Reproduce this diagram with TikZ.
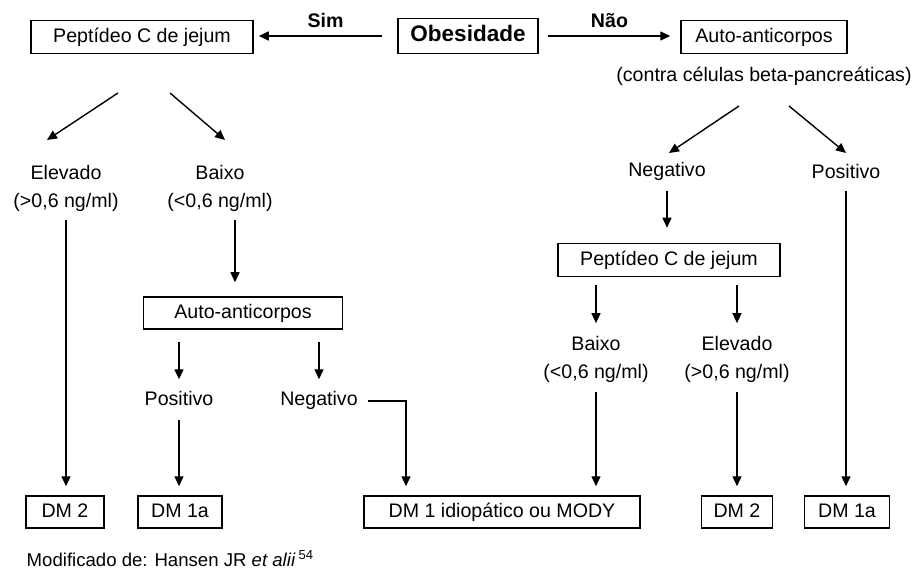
\documentclass[tikz,border=0pt]{standalone}
\usepackage{fontspec}
\setmainfont{Liberation Sans}
\usetikzlibrary{arrows.meta,positioning}

\begin{document}
\begin{tikzpicture}[x=1pt, y=-1pt, font=\fontsize{19.6}{28}\selectfont,
   >={Triangle[length=10pt,width=9pt]}, line width=1.4pt,
   caixa/.style={draw, line width=1.5pt, minimum height=33pt, inner sep=0pt, text height=14pt, text depth=3pt},
   rotulo/.style={align=center, inner sep=0pt},
   linha/.style={inner sep=0pt, text height=14pt, text depth=4pt}]
   \useasboundingbox (0,0) rectangle (919,569);

   % primeira linha
   \node[caixa, font=\fontsize{22.5}{28}\selectfont\bfseries, minimum width=140pt, minimum height=35pt] (obes) at (468,36) {Obesidade};
   \node[caixa, minimum width=222pt] (pepA) at (142,37) {Peptídeo C de jejum};
   \node[caixa, minimum width=166pt] (autoA) at (764,37) {Auto-anticorpos};
   \node[linha] (contra) at (764,77) {(contra células beta-pancreáticas)};

   % lado "Sim"
   \node[rotulo] (elevA) at (66,188) {Elevado\\(>0,6 ng/ml)};
   \node[rotulo] (baixoA) at (220,188) {Baixo\\(<0,6 ng/ml)};
   \node[caixa, minimum width=199pt, minimum height=32pt] (autoB) at (243,313) {Auto-anticorpos};
   \node[linha] (posB) at (179,401) {Positivo};
   \node[linha] (negB) at (319,401) {Negativo};

   % lado "Nao"
   \node[linha] (negC) at (667,172) {Negativo};
   \node[linha] (posC) at (846,174) {Positivo};
   \node[caixa, minimum width=222pt] (pepB) at (669,260) {Peptídeo C de jejum};
   \node[rotulo] (baixoB) at (596,359) {Baixo\\(<0,6 ng/ml)};
   \node[rotulo] (elevB) at (737,359) {Elevado\\(>0,6 ng/ml)};

   % diagnosticos
   \node[caixa, minimum width=78pt, minimum height=32pt] (dm2A) at (65,512) {DM 2};
   \node[caixa, minimum width=84pt, minimum height=32pt] (dm1aA) at (180,512) {DM 1a};
   \node[caixa, minimum width=276pt, minimum height=32pt] (idio) at (502,512) {DM 1 idiopático ou MODY};
   \node[caixa, minimum width=71pt, minimum height=32pt] (dm2B) at (737,512) {DM 2};
   \node[caixa, minimum width=85pt, minimum height=32pt] (dm1aB) at (847,512) {DM 1a};

   \node[inner sep=0pt, anchor=base west, font=\fontsize{18.6}{22}\selectfont] (fonte) at (26,566) {Modificado de: Hansen JR \textit{et alii}\,\textsuperscript{54}};

   % pontas livres das setas inclinadas
   \coordinate (pA1) at (118,93);
   \coordinate (pA2) at (170,93);
   \coordinate (eA1) at (47,140);
   \coordinate (eA2) at (225,140);
   \coordinate (pC1) at (739,106);
   \coordinate (pC2) at (789,106);
   \coordinate (eC1) at (669,153);
   \coordinate (eC2) at (846,153);

   \draw[->, shorten <=15pt, shorten >=5pt] (obes.west) -- (obes.west -| pepA.east)
      node[midway, above=4pt, font=\fontsize{19.6}{28}\selectfont\bfseries] {Sim};
   \draw[->, shorten <=9pt, shorten >=10pt] (obes.east) -- (obes.east -| autoA.west)
      node[midway, above=4pt, font=\fontsize{19.6}{28}\selectfont\bfseries] {Não};

   \draw[->] (pA1) -- (eA1);
   \draw[->] (pA2) -- (eA2);
   \draw[->] (pC1) -- (eC1);
   \draw[->] (pC2) -- (eC2);

   \draw[->, shorten <=8pt, shorten >=9pt] (elevA.south) -- (elevA.south |- dm2A.north);
   \draw[->, shorten <=8pt, shorten >=14pt] ([xshift=15pt]baixoA.south) -- ([xshift=15pt]baixoA.south |- autoB.north);
   \draw[->, shorten <=12pt, shorten >=12pt] (autoB.south -| posB) -- (posB.north);
   \draw[->, shorten <=12pt, shorten >=12pt] (autoB.south -| negB) -- (negB.north);
   \draw[->, shorten <=9pt, shorten >=9pt] (posB.south) -- (posB.south |- dm1aA.north);
   \draw[->, shorten <=10pt, shorten >=9pt] (negB.east) -| ([xshift=-96pt]idio.north);

   \draw[->, shorten <=9pt, shorten >=15pt] (negC.south) -- (negC.south |- pepB.north);
   \draw[->, shorten <=7pt, shorten >=9pt] (posC.south) -- (posC.south |- dm1aB.north);
   \draw[->, shorten <=8pt, shorten >=12pt] (pepB.south -| baixoB) -- (baixoB.north);
   \draw[->, shorten <=8pt, shorten >=12pt] (pepB.south -| elevB) -- (elevB.north);
   \draw[->, shorten <=9pt, shorten >=9pt] (baixoB.south) -- (baixoB.south |- idio.north);
   \draw[->, shorten <=9pt, shorten >=9pt] (elevB.south) -- (elevB.south |- dm2B.north);
\end{tikzpicture}
\end{document}
